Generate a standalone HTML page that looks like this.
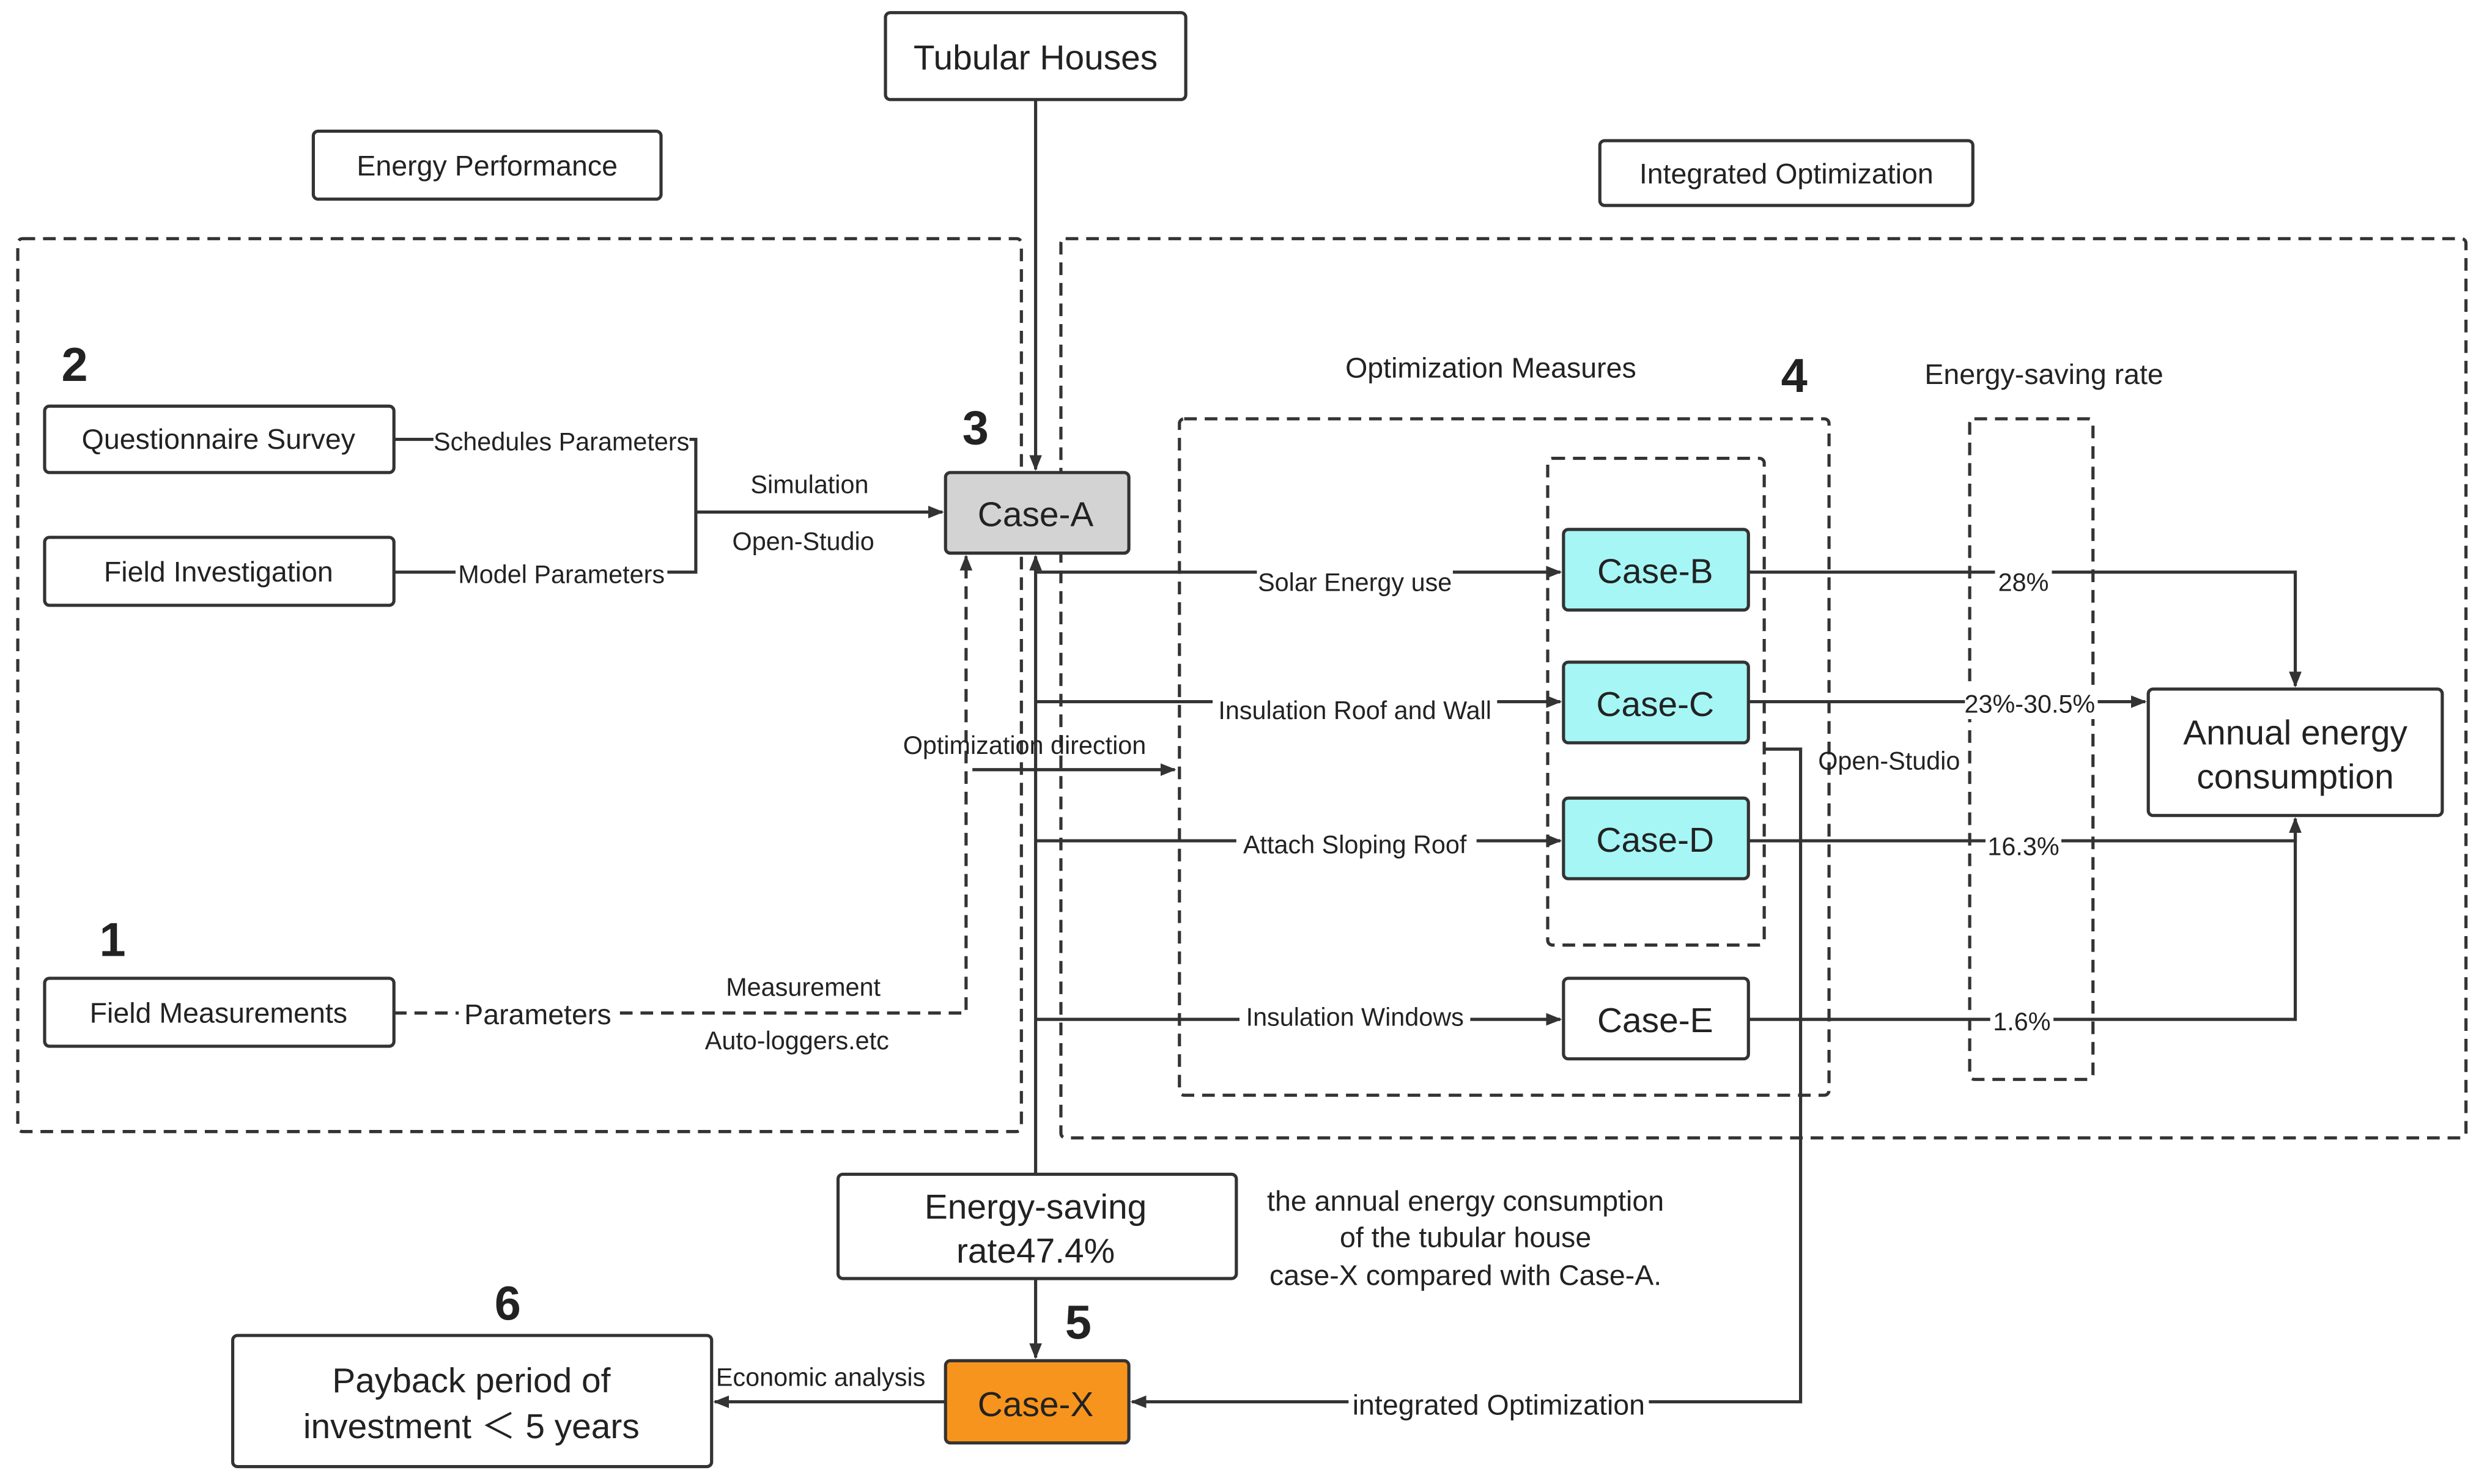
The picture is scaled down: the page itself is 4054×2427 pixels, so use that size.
<!DOCTYPE html>
<html><head><meta charset="utf-8"><style>
html,body{margin:0;padding:0;background:#fff;}
svg{display:block;}
text{font-family:"Liberation Sans",sans-serif;fill:#222;}
</style></head><body>
<svg width="4054" height="2427" viewBox="0 0 1568 939" xmlns="http://www.w3.org/2000/svg">
<defs>
<marker id="a" markerWidth="10" markerHeight="10" refX="9" refY="5" orient="auto" markerUnits="userSpaceOnUse">
<path d="M0,1 L10,5 L0,9 z" fill="#333"/></marker>
</defs>
<rect width="1568" height="939" fill="#fff"/>
<g fill="none" stroke="#333" stroke-width="2" stroke-dasharray="8,5">
<rect x="11" y="151" width="635" height="565" rx="3"/>
<rect x="671" y="151" width="889" height="569" rx="3"/>
<rect x="746" y="265" width="411" height="428" rx="3"/>
<rect x="979" y="290" width="137" height="308" rx="3"/>
<rect x="1246" y="265" width="78" height="418" rx="3"/>
<path d="M249,641 H611 V352" marker-end="url(#a)"/>
</g>
<g fill="none" stroke="#333" stroke-width="2">
<path d="M655,63 V297" marker-end="url(#a)"/>
<path d="M655,743 V352" marker-end="url(#a)"/>
<path d="M249,278 H440 V362 H249"/>
<path d="M440,324 H596" marker-end="url(#a)"/>
<path d="M655,362 H987" marker-end="url(#a)"/>
<path d="M655,444 H987" marker-end="url(#a)"/>
<path d="M655,532 H987" marker-end="url(#a)"/>
<path d="M655,645 H987" marker-end="url(#a)"/>
<path d="M615,487 H743" marker-end="url(#a)"/>
<path d="M1106,362 H1452 V434" marker-end="url(#a)"/>
<path d="M1106,444 H1357" marker-end="url(#a)"/>
<path d="M1106,532 H1452 V518" marker-end="url(#a)"/>
<path d="M1106,645 H1452 V518"/>
<path d="M1116,474 H1139 V887 H716" marker-end="url(#a)"/>
<path d="M655,809 V859" marker-end="url(#a)"/>
<path d="M598,887 H452" marker-end="url(#a)"/>
</g>
<g stroke="#333" stroke-width="2">
<rect x="560" y="8" width="190" height="55" rx="3" fill="#fff"/>
<rect x="198" y="83" width="220" height="43" rx="3" fill="#fff"/>
<rect x="1012" y="89" width="236" height="41" rx="3" fill="#fff"/>
<rect x="28" y="257" width="221" height="42" rx="3" fill="#fff"/>
<rect x="28" y="340" width="221" height="43" rx="3" fill="#fff"/>
<rect x="28" y="619" width="221" height="43" rx="3" fill="#fff"/>
<rect x="598" y="299" width="116" height="51" rx="3" fill="#d3d3d3"/>
<rect x="989" y="335" width="117" height="51" rx="3" fill="#a6f6f6"/>
<rect x="989" y="419" width="117" height="51" rx="3" fill="#a6f6f6"/>
<rect x="989" y="505" width="117" height="51" rx="3" fill="#a6f6f6"/>
<rect x="989" y="619" width="117" height="51" rx="3" fill="#fff"/>
<rect x="1359" y="436" width="186" height="80" rx="3" fill="#fff"/>
<rect x="530" y="743" width="252" height="66" rx="3" fill="#fff"/>
<rect x="598" y="861" width="116" height="52" rx="3" fill="#f7941d"/>
<rect x="147" y="845" width="303" height="83" rx="3" fill="#fff"/>
</g>
<g fill="#fff">
<rect x="274" y="268" width="162" height="20"/>
<rect x="288" y="352" width="134" height="20"/>
<rect x="290" y="631" width="100" height="22"/>
<rect x="795" y="352" width="124" height="20"/>
<rect x="767" y="434" width="180" height="20"/>
<rect x="782" y="522" width="152" height="20"/>
<rect x="784" y="635" width="146" height="20"/>
<rect x="1262" y="352" width="36" height="20"/>
<rect x="1243" y="435" width="84" height="20"/>
<rect x="1256" y="522" width="48" height="20"/>
<rect x="1259" y="635" width="40" height="20"/>
<rect x="853" y="877" width="190" height="22"/>
</g>
<g font-size="22" text-anchor="middle">
<text x="655" y="44">Tubular Houses</text>
<text x="655" y="333">Case-A</text>
<text x="1047" y="369">Case-B</text>
<text x="1047" y="453">Case-C</text>
<text x="1047" y="539">Case-D</text>
<text x="1047" y="653">Case-E</text>
<text x="655" y="896">Case-X</text>
<text x="1452" y="471">Annual energy</text>
<text x="1452" y="499">consumption</text>
<text x="655" y="771">Energy-saving</text>
<text x="655" y="799">rate47.4%</text>
<text x="298" y="881">Payback period of</text>
<text x="298" y="910">investment ＜ 5 years</text>
</g>
<g font-size="18" text-anchor="middle">
<text x="308" y="111">Energy Performance</text>
<text x="1130" y="116">Integrated Optimization</text>
<text x="138" y="284">Questionnaire Survey</text>
<text x="138" y="368">Field Investigation</text>
<text x="138" y="647">Field Measurements</text>
<text x="943" y="239">Optimization Measures</text>
<text x="1293" y="243">Energy-saving rate</text>
<text x="927" y="766">the annual energy consumption</text>
<text x="927" y="789">of the tubular house</text>
<text x="927" y="813">case-X compared with Case-A.</text>
<text x="948" y="895">integrated Optimization</text>
<text x="340" y="648">Parameters</text>
</g>
<g font-size="16" text-anchor="middle">
<text x="355" y="285">Schedules Parameters</text>
<text x="355" y="369">Model Parameters</text>
<text x="512" y="312">Simulation</text>
<text x="508" y="348">Open-Studio</text>
<text x="508" y="630">Measurement</text>
<text x="504" y="664">Auto-loggers.etc</text>
<text x="857" y="374">Solar Energy use</text>
<text x="857" y="455">Insulation Roof and Wall</text>
<text x="857" y="540">Attach Sloping Roof</text>
<text x="857" y="649">Insulation Windows</text>
<text x="648" y="477">Optimization direction</text>
<text x="1195" y="487">Open-Studio</text>
<text x="1280" y="374">28%</text>
<text x="1284" y="451">23%-30.5%</text>
<text x="1280" y="541">16.3%</text>
<text x="1279" y="652">1.6%</text>
<text x="519" y="877">Economic analysis</text>
</g>
<g font-size="30" font-weight="bold" text-anchor="middle">
<text x="47" y="241">2</text>
<text x="617" y="281">3</text>
<text x="1135" y="248">4</text>
<text x="71" y="605">1</text>
<text x="682" y="847">5</text>
<text x="321" y="835">6</text>
</g>
</svg>
</body></html>
